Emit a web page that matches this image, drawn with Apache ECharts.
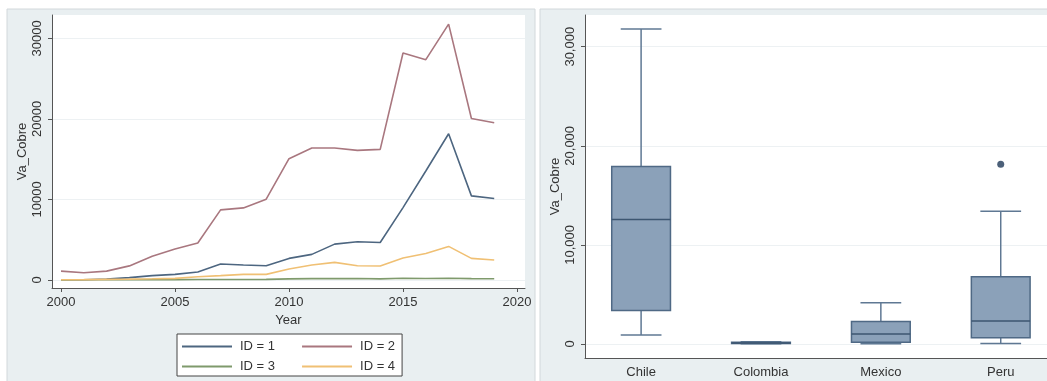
<!DOCTYPE html>
<html>
<head>
<meta charset="utf-8">
<script src="https://cdn.jsdelivr.net/npm/echarts@6/dist/echarts.min.js"></script>
<style>
html, body { margin: 0; padding: 0; background: #fff; }
#main { width: 1047px; height: 381px; }
</style>
</head>
<body>
<div id="main"></div>
<script>
// line chart data (Va_Cobre by year, one array per ID)
var years = [2000, 2001, 2002, 2003, 2004, 2005, 2006, 2007, 2008, 2009,
             2010, 2011, 2012, 2013, 2014, 2015, 2016, 2017, 2018, 2019];
var id1 = [40, 40, 120, 290, 540, 700, 1000, 1980, 1860, 1770,
           2680, 3180, 4455, 4744, 4660, 8990, 13530, 18150, 10440, 10110];
var id2 = [1100, 900, 1100, 1750, 2950, 3840, 4600, 8700, 8950, 10030,
           15060, 16380, 16380, 16090, 16210, 28180, 27350, 31770, 20050, 19510];
var id3 = [20, 30, 30, 40, 50, 50, 60, 70, 70, 80,
           140, 170, 170, 190, 140, 210, 180, 220, 170, 150];
var id4 = [30, 50, 80, 110, 150, 200, 400, 540, 700, 700,
           1360, 1860, 2190, 1770, 1730, 2720, 3300, 4170, 2680, 2480];
var seriesNames = ['ID = 1', 'ID = 2', 'ID = 3', 'ID = 4'];
var yearTicks = [2000, 2005, 2010, 2015, 2020];
var valueTicks = [0, 10000, 20000, 30000];

// box plot data (by country)
var countries = ['Chile', 'Colombia', 'Mexico', 'Peru'];
var boxMin = [900, 20, 30, 40];
var boxQ1 = [3370, 50, 172, 630];
var boxMed = [12570, 110, 1000, 2325];
var boxQ3 = [17920, 170, 2280, 6780];
var boxMax = [31780, 220, 4170, 13400];
var outlierCountry = ['Peru'];
var outlierValue = [18150];

var lineColors = ['#4d6680', '#a9777f', '#7f9a6c', '#f0c074'];
var FONT = "'Liberation Sans', Arial, sans-serif";
var TXT = '#333';
var AX = '#555';

var chart = echarts.init(document.getElementById('main'));

var lineData = [id1, id2, id3, id4];
var lineSeries = lineData.map(function (vals, k) {
    return {
        name: seriesNames[k],
        type: 'line',
        xAxisIndex: 0,
        yAxisIndex: 0,
        symbol: 'none',
        lineStyle: { width: 1.6, color: lineColors[k] },
        itemStyle: { color: lineColors[k] },
        data: years.map(function (y, i) { return [y, vals[i]]; })
    };
});

var boxData = countries.map(function (c, i) {
    return [i + 1, boxMin[i], boxQ1[i], boxMed[i], boxQ3[i], boxMax[i]];
});
var outlierData = outlierCountry.map(function (c, i) {
    return [countries.indexOf(c) + 1, outlierValue[i]];
});

function renderBox(params, api) {
    var x = api.value(0);
    var lo = api.coord([x, api.value(1)]);
    var q1 = api.coord([x, api.value(2)]);
    var md = api.coord([x, api.value(3)]);
    var q3 = api.coord([x, api.value(4)]);
    var hi = api.coord([x, api.value(5)]);
    var half = api.size([0.49, 0])[0] / 2;
    var cap = api.size([0.34, 0])[0] / 2;
    var ws = { stroke: '#5f7893', lineWidth: 1.5 };
    return {
        type: 'group',
        children: [
            { type: 'line', shape: { x1: hi[0], y1: hi[1], x2: q3[0], y2: q3[1] }, style: ws },
            { type: 'line', shape: { x1: lo[0], y1: lo[1], x2: q1[0], y2: q1[1] }, style: ws },
            { type: 'line', shape: { x1: hi[0] - cap, y1: hi[1], x2: hi[0] + cap, y2: hi[1] }, style: ws },
            { type: 'line', shape: { x1: lo[0] - cap, y1: lo[1], x2: lo[0] + cap, y2: lo[1] }, style: ws },
            { type: 'rect', shape: { x: q3[0] - half, y: q3[1], width: half * 2, height: Math.max(q1[1] - q3[1], 1) },
              style: { fill: '#8ba1b9', stroke: '#4f6985', lineWidth: 1.5 } },
            { type: 'line', shape: { x1: md[0] - half, y1: md[1], x2: md[0] + half, y2: md[1] },
              style: { stroke: '#3d5671', lineWidth: 1.5 } }
        ]
    };
}

var plain = function (v) { return String(v); };

var option = {
    backgroundColor: '#ffffff',
    animation: false,
    textStyle: { fontFamily: FONT },
    graphic: [
        { type: 'rect', z: -1, silent: true, shape: { x: 7, y: 9, width: 528, height: 380 },
          style: { fill: '#e9eff1', stroke: '#d2d8db', lineWidth: 1 } },
        { type: 'rect', z: -1, silent: true, shape: { x: 540, y: 9, width: 510, height: 380 },
          style: { fill: '#e9eff1', stroke: '#d2d8db', lineWidth: 1 } }
    ],
    legend: [
        {
            data: ['ID = 1', 'ID = 2'],
            left: 177, top: 334,
            orient: 'horizontal',
            padding: [6, 7, 23, 5],
            itemWidth: 50, itemHeight: 2, itemGap: 27,
            icon: 'rect',
            borderColor: '#444', borderWidth: 1,
            backgroundColor: '#ffffff',
            textStyle: { fontSize: 13, color: TXT, fontFamily: FONT, padding: [0, 0, 0, 3] }
        },
        {
            data: ['ID = 3', 'ID = 4'],
            left: 177, top: 354,
            orient: 'horizontal',
            padding: [6, 7, 6, 5],
            itemWidth: 50, itemHeight: 2, itemGap: 27,
            icon: 'rect',
            textStyle: { fontSize: 13, color: TXT, fontFamily: FONT, padding: [0, 0, 0, 3] }
        }
    ],
    grid: [
        { left: 52, top: 15, width: 473, height: 273, show: true, backgroundColor: '#ffffff',
          borderWidth: 0, outerBoundsMode: 'none' },
        { left: 585, top: 15, width: 462, height: 343, show: true, backgroundColor: '#ffffff',
          borderWidth: 0, outerBoundsMode: 'none' }
    ],
    xAxis: [
        {
            gridIndex: 0, type: 'value', min: 1999.605, max: 2020.35,
            name: 'Year', nameLocation: 'middle', nameGap: 26,
            nameTextStyle: { fontSize: 13, color: TXT, fontFamily: FONT },
            axisLine: { onZero: false, lineStyle: { color: AX, width: 1 } },
            axisTick: { length: 4, lineStyle: { color: AX }, customValues: yearTicks },
            axisLabel: { customValues: yearTicks, fontSize: 13, color: TXT, margin: 8, fontFamily: FONT,
                         formatter: plain },
            splitLine: { show: false }
        },
        {
            gridIndex: 1, type: 'value', min: 0.532, max: 4.386,
            axisLine: { onZero: false, lineStyle: { color: AX, width: 1 } },
            axisTick: { show: false, customValues: [1, 2, 3, 4] },
            axisLabel: {
                customValues: [1, 2, 3, 4], fontSize: 13, color: TXT, margin: 8, fontFamily: FONT,
                formatter: function (v) { return countries[Math.round(v) - 1] || ''; }
            },
            splitLine: { show: false }
        }
    ],
    yAxis: [
        {
            gridIndex: 0, type: 'value', min: -993, max: 32895,
            name: 'Va_Cobre', nameLocation: 'middle', nameGap: 23,
            nameTextStyle: { fontSize: 13, color: TXT, fontFamily: FONT },
            axisLine: { show: true, onZero: false, lineStyle: { color: AX, width: 1 } },
            axisTick: { show: true, length: 4, lineStyle: { color: AX }, customValues: valueTicks },
            axisLabel: { customValues: valueTicks, rotate: 90, fontSize: 13, color: TXT, margin: 8, fontFamily: FONT,
                         formatter: plain },
            splitLine: { show: true, lineStyle: { color: '#edf1f3', width: 1 } }
        },
        {
            gridIndex: 1, type: 'value', min: -1414, max: 33200,
            name: 'Va_Cobre', nameLocation: 'middle', nameGap: 23,
            nameTextStyle: { fontSize: 13, color: TXT, fontFamily: FONT },
            axisLine: { show: true, onZero: false, lineStyle: { color: AX, width: 1 } },
            axisTick: { show: true, length: 4, lineStyle: { color: AX }, customValues: valueTicks },
            axisLabel: {
                customValues: valueTicks, rotate: 90, fontSize: 13, color: TXT, margin: 8, fontFamily: FONT,
                formatter: function (v) { return v.toLocaleString('en-US'); }
            },
            splitLine: { show: true, lineStyle: { color: '#edf1f3', width: 1 } }
        }
    ],
    series: lineSeries.concat([
        {
            type: 'custom',
            name: 'box',
            xAxisIndex: 1, yAxisIndex: 1,
            renderItem: renderBox,
            encode: { x: 0, y: [1, 2, 3, 4, 5] },
            data: boxData
        },
        {
            type: 'scatter',
            name: 'outlier',
            xAxisIndex: 1, yAxisIndex: 1,
            symbolSize: 7,
            itemStyle: { color: '#1f3857' },
            data: outlierData
        }
    ])
};

chart.setOption(option);
</script>
</body>
</html>
